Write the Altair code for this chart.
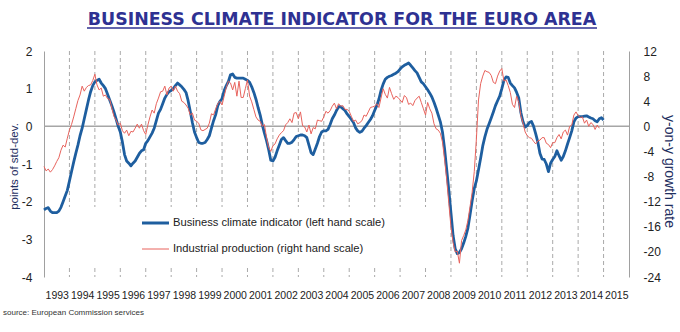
import altair as alt
import pandas as pd

# ---------------- data (monthly, starting January 1993) ----------------
START_YEAR = 1993
# Business climate indicator, points of std-dev (left scale)
bci = [
    -2.22, -2.18, -2.16, -2.25, -2.29, -2.29, -2.29, -2.25, -2.15, -2.0, -1.85, -1.7,   # 1993
    -1.45, -1.2, -0.95, -0.72, -0.5, -0.25, -0.05, 0.2, 0.45, 0.7, 0.92, 1.08,        # 1994
    1.18, 1.22, 1.25, 1.15, 1.08, 1.0, 0.85, 0.7, 0.55, 0.38, 0.2, 0.0,               # 1995
    -0.15, -0.42, -0.75, -0.92, -0.98, -1.05, -0.98, -0.92, -0.82, -0.72, -0.65, -0.62,  # 1996
    -0.45, -0.38, -0.28, -0.18, -0.05, 0.15, 0.35, 0.45, 0.6, 0.75, 0.85, 0.92,       # 1997
    0.95, 1.0, 1.08, 1.15, 1.1, 1.05, 0.98, 0.9, 0.68, 0.4, 0.1, -0.15,               # 1998
    -0.3, -0.43, -0.45, -0.45, -0.43, -0.35, -0.25, -0.05, 0.15, 0.31, 0.55, 0.66,    # 1999
    0.74, 0.95, 1.08, 1.19, 1.37, 1.39, 1.3, 1.28, 1.28, 1.28, 1.28, 1.25,            # 2000
    1.22, 1.17, 1.05, 0.9, 0.72, 0.5, 0.3, 0.04, -0.18, -0.38, -0.62, -0.9,           # 2001
    -0.92, -0.82, -0.65, -0.5, -0.35, -0.3, -0.38, -0.45, -0.45, -0.42, -0.35, -0.27, # 2002
    -0.25, -0.23, -0.23, -0.25, -0.3, -0.5, -0.7, -0.75, -0.6, -0.45, -0.27, -0.15,   # 2003
    -0.12, -0.12, -0.08, 0.05, 0.2, 0.3, 0.42, 0.52, 0.52, 0.47, 0.42, 0.33,          # 2004
    0.26, 0.18, 0.1, -0.04, -0.12, -0.16, -0.13, -0.05, 0.02, 0.1, 0.18, 0.28,        # 2005
    0.42, 0.55, 0.72, 0.95, 1.12, 1.25, 1.3, 1.33, 1.35, 1.38, 1.41, 1.45,            # 2006
    1.52, 1.58, 1.62, 1.65, 1.68, 1.62, 1.55, 1.48, 1.42, 1.3, 1.18, 1.13,            # 2007
    1.05, 0.97, 0.88, 0.78, 0.64, 0.48, 0.3, 0.12, -0.15, -0.6, -1.15, -1.7,          # 2008
    -2.3, -2.9, -3.25, -3.38, -3.35, -3.25, -3.1, -2.92, -2.7, -2.35, -1.98, -1.65,   # 2009
    -1.45, -1.15, -0.85, -0.52, -0.28, -0.08, 0.07, 0.22, 0.38, 0.55, 0.68, 0.8,      # 2010
    1.0, 1.22, 1.31, 1.3, 1.15, 1.08, 1.02, 0.9, 0.75, 0.36, 0.12, -0.02,             # 2011
    0.02, 0.1, 0.13, 0.0, -0.2, -0.42, -0.72, -0.87, -0.88, -1.0, -1.2, -0.98,        # 2012
    -0.88, -0.8, -0.65, -0.78, -0.9, -0.8, -0.65, -0.47, -0.3, -0.12, 0.12, 0.22,     # 2013
    0.26, 0.26, 0.26, 0.27, 0.28, 0.25, 0.22, 0.2, 0.15, 0.12, 0.2, 0.23,             # 2014
    0.17,                                                                             # 2015
]
# Industrial production, y-on-y growth rate % (right scale)
ip = [
    -6.4, -7.1, -6.8, -7.3, -6.9, -6.3, -5.6, -5.0, -3.8, -3.0, -3.3, -1.9,   # 1993
    -0.6, 0.3, 1.5, 2.8, 4.1, 5.0, 6.4, 5.6, 6.2, 6.5, 6.6, 7.3,              # 1994
    8.3, 6.6, 5.8, 6.1, 4.8, 5.0, 4.4, 4.3, 2.9, 1.6, 1.0, 0.2,               # 1995
    0.5, -0.7, -1.1, -0.6, -1.5, -0.8, -0.9, -0.3, 0.35, -0.3, 0.35, -0.7,    # 1996
    -1.3, 0.2, 1.5, 2.6, 2.1, 3.6, 4.5, 5.5, 5.6, 6.4, 5.0, 6.1,              # 1997
    6.4, 5.6, 6.4, 5.6, 5.2, 4.0, 3.8, 3.4, 2.9, 1.8, 2.1, 1.0,               # 1998
    0.8, 0.5, -0.56, -0.7, -0.5, -0.3, 0.5, 2.0, 1.8, 2.8, 3.6, 4.0,          # 1999
    3.4, 4.8, 6.2, 7.2, 6.9, 5.8, 7.0, 4.8, 7.2, 4.6, 4.6, 6.0,               # 2000
    7.4, 4.8, 3.9, 2.7, 1.5, 1.0, 0.8, 0.0, 0.3, -1.8, -3.4, -4.0,            # 2001
    -3.1, -2.8, -2.0, -1.4, -1.0, -0.7, 0.24, 0.6, 1.2, 0.6, 2.1, 2.2,        # 2002
    1.2, 2.3, 0.1, -0.1, -0.9, 0.2, -1.2, -0.2, -0.4, 1.0, 0.9, 0.8,          # 2003
    1.5, 2.4, 2.1, 2.5, 3.2, 3.7, 2.8, 3.6, 3.2, 3.3, 2.7, 2.7,               # 2004
    2.4, 1.6, 0.8, 1.0, 0.4, 0.6, 0.9, 1.8, 1.6, 2.3, 3.0, 3.1,               # 2005
    3.2, 3.6, 3.0, 4.5, 6.0, 5.1, 4.5, 6.2, 5.2, 4.3, 4.8, 4.6,               # 2006
    4.2, 3.8, 4.9, 4.6, 3.5, 3.7, 3.3, 4.1, 4.5, 4.8, 3.8, 2.8,               # 2007
    1.8, 3.8, 2.8, 2.1, 0.4, -0.4, -0.6, -1.1, -2.5, -5.3, -8.5, -12.3,       # 2008
    -16.0, -18.5, -20.0, -19.9, -21.8, -18.2, -17.4, -16.5, -15.0, -12.8, -10.5, -7.2,  # 2009
    -2.0, 4.2, 6.8, 8.0, 8.9, 8.7, 8.6, 8.1, 7.0, 6.8, 8.0, 8.8,              # 2010
    9.2, 7.2, 7.4, 6.5, 5.4, 3.5, 3.0, 4.8, 3.8, 1.7, 0.5, -0.9,              # 2011
    -1.5, -1.8, -1.9, -2.4, -2.8, -2.3, -2.2, -1.8, -1.8, -2.7, -2.9, -3.4,   # 2012
    -2.6, -2.6, -1.8, -1.3, -2.0, -0.9, -0.6, -1.4, 0.0, 0.2, 1.8, 2.3,       # 2013
    1.7, 1.4, 1.5, 0.5, 1.0, 0.0, 0.6, 0.3, -0.5, 0.2, -0.3,                  # 2014
]
label_years = list(range(1993, 2016))        # tick labels 1993 ... 2015
boundary_years = list(range(1994, 2016))     # dashed year separators
left_ticks = [-4, -3, -2, -1, 0, 1, 2]
right_ticks = [-24, -20, -16, -12, -8, -4, 0, 4, 8, 12]
series_names = ["Business climate indicator (left hand scale)",
                "Industrial production (right hand scale)"]
TITLE = "BUSINESS CLIMATE INDICATOR FOR THE EURO AREA"
SOURCE = "source: European Commission services"

# ---------------- frames ----------------
df_b = pd.DataFrame({"t": [START_YEAR + i / 12 for i in range(len(bci))], "v": bci})
df_r = pd.DataFrame({"t": [START_YEAR + i / 12 for i in range(len(ip))], "v": ip})
df_grid = pd.DataFrame({"t": boundary_years})
one = pd.DataFrame({"a": [0]})

W, H = 585, 226
BLUE = "#1E5E9F"
RED = "#E8635D"
GRID = "#A9A9A9"
NAVY = "#1F2F5F"
TXT = "#222222"
FONT = "Liberation Sans"

x_enc = alt.X(
    "t:Q",
    scale=alt.Scale(domain=[1993, 2016], nice=False, zero=False),
    axis=alt.Axis(values=[y + 0.5 for y in label_years], labelExpr="floor(datum.value)",
                  ticks=False, tickSize=0, domain=False, grid=False, labelPadding=13,
                  labelFlush=False, labelOverlap=False, title=None,
                  labelFont=FONT, labelFontSize=10.5, labelColor=TXT),
)

grid = alt.Chart(df_grid).mark_rule(color=GRID, strokeDash=[4, 3], strokeWidth=1).encode(x=x_enc)

legend_box = alt.Chart(one).mark_rect(fill="white").encode(
    x=alt.value(16), x2=alt.value(397), y=alt.value(156), y2=alt.value(214))

zero = alt.Chart(pd.DataFrame({"z": [0]})).mark_rule(color="#A6A6A6", strokeWidth=1.5).encode(
    y=alt.Y("z:Q", scale=alt.Scale(domain=[-4, 2], nice=False, zero=False), axis=None))

blue = alt.Chart(df_b).mark_line(color=BLUE, strokeWidth=2.8, strokeJoin="round").encode(
    x=x_enc,
    y=alt.Y("v:Q", scale=alt.Scale(domain=[-4, 2], nice=False, zero=False),
            axis=alt.Axis(orient="left", values=left_ticks, labelExpr="toString(datum.value)",
                          ticks=False, tickSize=0, grid=False, domain=True, domainColor="#A0A0A0",
                          labelPadding=12, labelFont=FONT, labelFontSize=12, labelColor=TXT,
                          title="points of std-dev.", titleFont=FONT, titleFontSize=11.5,
                          titleFontWeight="normal", titleColor=NAVY, titleAngle=-90,
                          titleX=-30, titleY=115, titleAlign="center", titleBaseline="middle")),
)

red = alt.Chart(df_r).mark_line(color=RED, strokeWidth=1).encode(
    x=x_enc,
    y=alt.Y("v:Q", scale=alt.Scale(domain=[-24, 12], nice=False, zero=False),
            axis=alt.Axis(orient="right", values=right_ticks, labelExpr="toString(datum.value)",
                          ticks=False, tickSize=0, grid=False, domain=True, domainColor="#A0A0A0",
                          labelPadding=14, labelFont=FONT, labelFontSize=12, labelColor=TXT,
                          title="y-on-y growth rate", titleFont=FONT, titleFontSize=14,
                          titleFontWeight="normal", titleColor=NAVY, titleAngle=90,
                          titleX=39, titleY=120, titleAlign="center", titleBaseline="middle")),
)

leg_blue_line = alt.Chart(one).mark_rule(color=BLUE, strokeWidth=3).encode(
    x=alt.value(98), x2=alt.value(125), y=alt.value(172))
leg_red_line = alt.Chart(one).mark_rule(color=RED, strokeWidth=1).encode(
    x=alt.value(98), x2=alt.value(125), y=alt.value(198))
leg_blue_text = alt.Chart(one).mark_text(align="left", baseline="middle", font=FONT,
                                         fontSize=11.2, color=TXT).encode(
    x=alt.value(129), y=alt.value(172), text=alt.value(series_names[0]))
leg_red_text = alt.Chart(one).mark_text(align="left", baseline="middle", font=FONT,
                                        fontSize=11.2, color=TXT).encode(
    x=alt.value(129), y=alt.value(198), text=alt.value(series_names[1]))

title_text = alt.Chart(one).mark_text(align="center", baseline="alphabetic", font="DejaVu Sans",
                                      fontWeight="bold", fontSize=17.4, color="#2E3192").encode(
    x=alt.value(298), y=alt.value(-26), text=alt.value(TITLE))
title_underline = alt.Chart(one).mark_rule(color="#2E3192", strokeWidth=1.5).encode(
    x=alt.value(43), x2=alt.value(553), y=alt.value(-23))
source_text = alt.Chart(one).mark_text(align="left", baseline="middle", font=FONT,
                                       fontSize=8, color="#333333").encode(
    x=alt.value(-41), y=alt.value(262), text=alt.value(SOURCE))

chart = alt.layer(
    grid, legend_box, zero, blue, red,
    leg_blue_line, leg_red_line, leg_blue_text, leg_red_text,
    title_text, title_underline, source_text,
).resolve_scale(y="independent").properties(
    width=W, height=H,
    autosize=alt.AutoSizeParams(type="none"),
    padding={"left": 44, "top": 51, "right": 51, "bottom": 55},
    background="white",
).configure_view(stroke=None)

chart.save("out.html", embed_options={"renderer": "svg", "actions": False})
